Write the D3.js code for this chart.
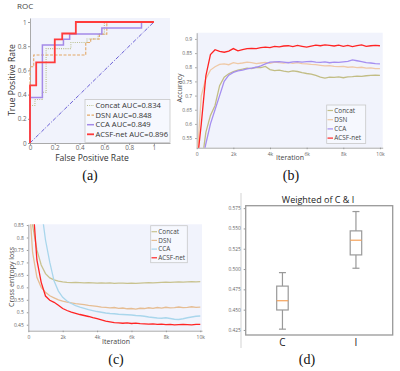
<!DOCTYPE html>
<html>
<head>
<meta charset="utf-8">
<script src="https://cdn.jsdelivr.net/npm/d3@7"></script>
<style>
  body { margin: 0; background: #fff; }
  text { font-family: "Open Sans", "DejaVu Sans", sans-serif; }
  .cap { font-family: "Liberation Serif", serif; font-size: 14px; fill: #111; }
</style>
</head>
<body>
<div id="vis"></div>
<script>
// ---- data ----
const series = ["Concat", "DSN", "CCA", "ACSF-net"]
const aucs = ["0.834", "0.848", "0.849", "0.896"]

// ROC step points (fpr, tpr)
const rocConcat = [[0,0],[0,0.31],[0.04,0.31],[0.04,0.36],[0.1,0.36],[0.1,0.42],[0.13,0.42],[0.13,0.78],[0.33,0.78],[0.33,0.83],[0.46,0.83],[0.46,0.86],[0.55,0.86],[0.55,0.9],[0.6,0.9],[0.6,1],[1,1]]
const rocDSN = [[0,0],[0,0.63],[0.03,0.63],[0.03,0.727],[0.45,0.727],[0.45,0.83],[0.49,0.83],[0.49,0.86],[0.56,0.86],[0.56,0.9],[0.62,0.9],[0.62,1],[1,1]]
const rocCCA = [[0,0],[0,0.375],[0.1,0.375],[0.1,0.81],[0.27,0.81],[0.27,0.857],[0.32,0.857],[0.32,0.9],[0.58,0.9],[0.58,0.95],[0.9,0.95],[0.9,1],[1,1]]
const rocACSF = [[0,0],[0,0.476],[0.05,0.476],[0.05,0.667],[0.2,0.667],[0.2,0.857],[0.26,0.857],[0.26,0.905],[0.37,0.905],[0.37,1],[1,1]]

const iters = [0,250,500,750,1000,1250,1500,1750,2000,2250,2500,2750,3000,3250,3500,3750,4000,4250,4500,4750,5000,5250,5500,5750,6000,6250,6500,6750,7000,7250,7500,7750,8000,8250,8500,8750,9000,9250,9500,9750,10000]

// accuracy (b)
const accConcat = [0.40,0.45,0.57,0.63,0.665,0.735,0.765,0.777,0.785,0.79,0.793,0.797,0.795,0.80,0.799,0.803,0.792,0.788,0.79,0.786,0.784,0.787,0.785,0.781,0.778,0.776,0.771,0.765,0.762,0.765,0.764,0.766,0.763,0.766,0.767,0.769,0.768,0.77,0.771,0.772,0.771]
const accDSN = [0.45,0.70,0.76,0.79,0.802,0.81,0.812,0.809,0.816,0.813,0.815,0.818,0.816,0.813,0.815,0.817,0.814,0.818,0.816,0.815,0.817,0.814,0.816,0.813,0.812,0.81,0.809,0.807,0.805,0.806,0.803,0.802,0.803,0.80,0.801,0.799,0.80,0.797,0.798,0.795,0.795]
const accCCA = [0.40,0.45,0.53,0.60,0.65,0.70,0.75,0.772,0.782,0.787,0.79,0.794,0.797,0.80,0.805,0.812,0.818,0.819,0.82,0.818,0.816,0.819,0.82,0.818,0.82,0.821,0.818,0.817,0.819,0.816,0.818,0.817,0.819,0.821,0.826,0.823,0.82,0.816,0.815,0.813,0.812]
const accACSF = [0.45,0.60,0.77,0.845,0.862,0.856,0.853,0.857,0.866,0.858,0.862,0.866,0.867,0.866,0.869,0.871,0.869,0.874,0.872,0.875,0.876,0.873,0.877,0.874,0.871,0.875,0.878,0.876,0.879,0.877,0.875,0.878,0.874,0.877,0.873,0.876,0.879,0.874,0.876,0.877,0.876]

// loss (c)
const lossConcat = [1.0,0.85,0.75,0.69,0.655,0.638,0.63,0.625,0.622,0.62,0.619,0.62,0.619,0.618,0.619,0.618,0.617,0.618,0.617,0.618,0.616,0.617,0.617,0.616,0.617,0.616,0.617,0.618,0.619,0.618,0.619,0.62,0.621,0.62,0.621,0.622,0.621,0.622,0.623,0.622,0.623]
const lossDSN = [1.0,0.74,0.64,0.60,0.58,0.566,0.558,0.55,0.545,0.541,0.538,0.535,0.533,0.531,0.528,0.526,0.524,0.521,0.52,0.518,0.519,0.516,0.517,0.514,0.515,0.513,0.516,0.515,0.518,0.516,0.519,0.517,0.52,0.518,0.519,0.521,0.519,0.52,0.522,0.52,0.521]
const lossCCA = [1.5,1.3,1.1,0.92,0.79,0.70,0.625,0.585,0.56,0.545,0.535,0.527,0.521,0.516,0.511,0.507,0.503,0.50,0.497,0.495,0.494,0.492,0.491,0.49,0.489,0.487,0.486,0.484,0.481,0.479,0.477,0.476,0.478,0.475,0.472,0.471,0.474,0.478,0.481,0.484,0.485]
const lossACSF = [1.2,0.95,0.71,0.62,0.565,0.548,0.54,0.528,0.515,0.507,0.501,0.496,0.491,0.487,0.483,0.478,0.474,0.469,0.464,0.461,0.458,0.457,0.456,0.457,0.455,0.456,0.454,0.453,0.452,0.453,0.451,0.452,0.45,0.451,0.449,0.45,0.451,0.45,0.449,0.451,0.451]

// box plot (d)
const boxCats = ["C", "I"]
const boxStats = [
  { lo: 0.426, q1: 0.4496, med: 0.461, q3: 0.479, hi: 0.4956 },
  { lo: 0.501, q1: 0.5174, med: 0.5355, q3: 0.547, hi: 0.5708 }
]

const bg = "#f1f3fc"
const tickCol = "#666"

var svg = d3.select("#vis").append("svg")
  .attr("width", 400).attr("height", 371)

function styleAxis(g, fs) {
  g.selectAll("text").attr("fill", tickCol).style("font-size", fs + "px")
  g.selectAll("line").attr("stroke", "#999")
  g.select(".domain").attr("stroke", "#aaa")
}

function kfmt(d) { return d === 0 ? "0" : (d / 1000) + "k" }

// ================= (a) ROC =================
var ax = d3.scaleLinear().domain([0, 1.13]).range([30, 170])
var ay = d3.scaleLinear().domain([0, 1.033]).range([143, 18])

svg.append("rect").attr("x", 30).attr("y", 18).attr("width", 140).attr("height", 125).attr("fill", bg)
svg.append("text").attr("x", 17).attr("y", 9).text("ROC").attr("font-size", "8px").attr("fill", "#444")

svg.append("g").attr("transform", "translate(0,143)")
  .call(d3.axisBottom(ax).tickValues([0, 0.2, 0.4, 0.6, 0.8, 1]).tickFormat(d3.format("~g")).tickSize(2).tickPadding(1).tickSizeOuter(0))
  .call(g => styleAxis(g, 6.3))
svg.append("g").attr("transform", "translate(30,0)")
  .call(d3.axisLeft(ay).tickValues([0, 0.2, 0.4, 0.6, 0.8, 1]).tickFormat(d3.format("~g")).tickSize(2).tickPadding(1.5).tickSizeOuter(0))
  .call(g => styleAxis(g, 6.3))

svg.append("text").attr("x", 92).attr("y", 161).attr("text-anchor", "middle")
  .attr("font-size", "8.6px").attr("fill", "#333").text("False Positive Rate")
svg.append("text").attr("transform", "translate(15,80) rotate(-90)").attr("text-anchor", "middle")
  .attr("font-size", "8.6px").attr("fill", "#333").text("True Positive Rate")

var rocLine = d3.line().x(d => ax(d[0])).y(d => ay(d[1]))
svg.append("path").datum([[0, 0], [1, 1]]).attr("d", rocLine)
  .attr("fill", "none").attr("stroke", "#5b4fd0").attr("stroke-width", 0.9).attr("stroke-dasharray", "4,1.5,1,1.5")

const rocSets = [
  { d: rocConcat, c: "#b9bf8c", w: 1.1, dash: "1,1.2" },
  { d: rocDSN, c: "#e3a867", w: 1.1, dash: "3,1.5" },
  { d: rocCCA, c: "#a48ae8", w: 1.5, dash: null },
  { d: rocACSF, c: "#ff3b3b", w: 1.8, dash: null }
]
rocSets.forEach(s => {
  svg.append("path").datum(s.d).attr("d", rocLine)
    .attr("fill", "none").attr("stroke", s.c).attr("stroke-width", s.w)
    .attr("stroke-dasharray", s.dash)
})

var lgA = svg.append("g")
lgA.append("rect").attr("x", 85).attr("y", 99.5).attr("width", 85).attr("height", 43)
  .attr("fill", "#f6f8fe").attr("stroke", "#c8c8c8").attr("stroke-width", 0.8)
series.forEach((n, i) => {
  var yy = 105.5 + i * 9.6
  lgA.append("line").attr("x1", 87).attr("x2", 94).attr("y1", yy).attr("y2", yy)
    .attr("stroke", rocSets[i].c).attr("stroke-width", rocSets[i].w).attr("stroke-dasharray", rocSets[i].dash)
  lgA.append("text").attr("x", 95.5).attr("y", yy + 2.7).attr("font-size", "7.6px").attr("fill", "#333")
    .text(n + " AUC=" + aucs[i])
})

svg.append("text").attr("class", "cap").attr("x", 90).attr("y", 180).attr("text-anchor", "middle").text("(a)")

// ================= (b) Accuracy =================
var bx = d3.scaleLinear().domain([0, 10150]).range([196.7, 382.7])
var by = d3.scaleLinear().domain([0.516, 0.922]).range([147.7, 32.7])

svg.append("rect").attr("x", 196.7).attr("y", 32.7).attr("width", 186).attr("height", 115).attr("fill", bg)
svg.append("clipPath").attr("id", "clipB").append("rect")
  .attr("x", 196.7).attr("y", 32.7).attr("width", 186).attr("height", 115)

svg.append("g").attr("transform", "translate(0,147.7)")
  .call(d3.axisBottom(bx).tickValues([0, 2000, 4000, 6000, 8000, 10000]).tickFormat(kfmt).tickSize(1.5).tickSizeOuter(0))
  .call(g => styleAxis(g, 5))
svg.append("g").attr("transform", "translate(196.7,0)")
  .call(d3.axisLeft(by).tickValues([0.55, 0.6, 0.65, 0.7, 0.75, 0.8, 0.85, 0.9]).tickFormat(d3.format("~g")).tickSize(1.5).tickSizeOuter(0))
  .call(g => styleAxis(g, 5))

svg.append("text").attr("x", 290).attr("y", 160).attr("text-anchor", "middle")
  .attr("font-size", "7px").attr("fill", "#444").text("Iteration")
svg.append("text").attr("transform", "translate(182,88) rotate(-90)").attr("text-anchor", "middle")
  .attr("font-size", "7px").attr("fill", "#444").text("Accuracy")

const accSets = [
  { v: accConcat, c: "#c2bd85" },
  { v: accDSN, c: "#efc9a6" },
  { v: accCCA, c: "#a58ef0" },
  { v: accACSF, c: "#ff2424" }
]
var accLine = d3.line().x((d, i) => bx(iters[i])).y(d => by(d))
var gB = svg.append("g").attr("clip-path", "url(#clipB)")
accSets.forEach(s => {
  gB.append("path").datum(s.v).attr("d", accLine)
    .attr("fill", "none").attr("stroke", s.c).attr("stroke-width", 1.3)
})

var lgB = svg.append("g")
lgB.append("rect").attr("x", 326.7).attr("y", 105).attr("width", 39).attr("height", 38.5)
  .attr("fill", "#f6f8fe").attr("stroke", "#c8c8c8").attr("stroke-width", 0.8)
series.forEach((n, i) => {
  var yy = 110.5 + i * 9.2
  lgB.append("line").attr("x1", 327.5).attr("x2", 333).attr("y1", yy).attr("y2", yy)
    .attr("stroke", accSets[i].c).attr("stroke-width", 1.2)
  lgB.append("text").attr("x", 334.3).attr("y", yy + 2.3).attr("font-size", "6.4px").attr("fill", "#444").text(n)
})

svg.append("text").attr("class", "cap").attr("x", 291).attr("y", 180).attr("text-anchor", "middle").text("(b)")

// ================= (c) Loss =================
var cx = d3.scaleLinear().domain([0, 10100]).range([28.3, 202])
var cy = d3.scaleLinear().domain([0.426, 0.853]).range([330.7, 224.3])

svg.append("rect").attr("x", 28.3).attr("y", 224.3).attr("width", 173.7).attr("height", 106.4).attr("fill", bg)
svg.append("clipPath").attr("id", "clipC").append("rect")
  .attr("x", 28.3).attr("y", 224.3).attr("width", 173.7).attr("height", 106.4)

svg.append("g").attr("transform", "translate(0,330.7)")
  .call(d3.axisBottom(cx).tickValues([0, 2000, 4000, 6000, 8000, 10000]).tickFormat(kfmt).tickSize(1.5).tickSizeOuter(0))
  .call(g => styleAxis(g, 5))
svg.append("g").attr("transform", "translate(28.3,0)")
  .call(d3.axisLeft(cy).tickValues([0.45, 0.5, 0.55, 0.6, 0.65, 0.7, 0.75, 0.8, 0.85]).tickFormat(d3.format("~g")).tickSize(1.5).tickSizeOuter(0))
  .call(g => styleAxis(g, 5))

svg.append("text").attr("x", 116).attr("y", 344).attr("text-anchor", "middle")
  .attr("font-size", "7px").attr("fill", "#444").text("Iteration")
svg.append("text").attr("transform", "translate(14,277) rotate(-90)").attr("text-anchor", "middle")
  .attr("font-size", "7px").attr("fill", "#444").text("Cross entropy loss")

const lossSets = [
  { v: lossConcat, c: "#c8c28f" },
  { v: lossDSN, c: "#e6bd93" },
  { v: lossCCA, c: "#a9d6ec" },
  { v: lossACSF, c: "#ff2424" }
]
var lossLine = d3.line().x((d, i) => cx(iters[i])).y(d => cy(d))
var gC = svg.append("g").attr("clip-path", "url(#clipC)")
lossSets.forEach(s => {
  gC.append("path").datum(s.v).attr("d", lossLine)
    .attr("fill", "none").attr("stroke", s.c).attr("stroke-width", 1.3)
})

var lgC = svg.append("g")
lgC.append("rect").attr("x", 150.7).attr("y", 225.7).attr("width", 36.6).attr("height", 37)
  .attr("fill", "#f6f8fe").attr("stroke", "#c8c8c8").attr("stroke-width", 0.8)
series.forEach((n, i) => {
  var yy = 231.7 + i * 8.7
  lgC.append("line").attr("x1", 151.5).attr("x2", 157).attr("y1", yy).attr("y2", yy)
    .attr("stroke", lossSets[i].c).attr("stroke-width", 1.2)
  lgC.append("text").attr("x", 158.3).attr("y", yy + 2.3).attr("font-size", "6.4px").attr("fill", "#444").text(n)
})

svg.append("text").attr("class", "cap").attr("x", 116).attr("y", 364).attr("text-anchor", "middle").text("(c)")

// ================= (d) Box plot =================
var dx = d3.scalePoint().domain(boxCats).range([245.7, 392.7]).padding(0.5)
var dy = d3.scaleLinear().domain([0.4188, 0.578]).range([335, 205.7])

svg.append("line").attr("x1", 241).attr("x2", 241).attr("y1", 193).attr("y2", 348)
  .attr("stroke", "#e2e2e2").attr("stroke-width", 1.5)

svg.append("g").attr("transform", "translate(245.7,0)")
  .call(d3.axisLeft(dy).tickValues([0.425, 0.45, 0.475, 0.5, 0.525, 0.55, 0.575]).tickFormat(d3.format(".3f")).tickSize(2).tickSizeOuter(0))
  .call(g => styleAxis(g, 4.8))
  .call(g => g.select(".domain").remove())

svg.append("rect").attr("x", 245.7).attr("y", 205.7).attr("width", 147).attr("height", 129.3)
  .attr("fill", "none").attr("stroke", "#999").attr("stroke-width", 1.3)

svg.append("text").attr("x", 318).attr("y", 203).attr("text-anchor", "middle")
  .attr("font-size", "9px").attr("fill", "#222").text("Weighted of C & I")

boxCats.forEach((c, i) => {
  var s = boxStats[i], x0 = dx(c), bw = 11.5, cw = 7
  var g = svg.append("g")
  g.append("line").attr("x1", x0).attr("x2", x0).attr("y1", dy(s.lo)).attr("y2", dy(s.q1)).attr("stroke", "#999").attr("stroke-width", 1.2)
  g.append("line").attr("x1", x0).attr("x2", x0).attr("y1", dy(s.q3)).attr("y2", dy(s.hi)).attr("stroke", "#999").attr("stroke-width", 1.2)
  g.append("line").attr("x1", x0 - cw / 2).attr("x2", x0 + cw / 2).attr("y1", dy(s.lo)).attr("y2", dy(s.lo)).attr("stroke", "#999").attr("stroke-width", 1.2)
  g.append("line").attr("x1", x0 - cw / 2).attr("x2", x0 + cw / 2).attr("y1", dy(s.hi)).attr("y2", dy(s.hi)).attr("stroke", "#999").attr("stroke-width", 1.2)
  g.append("rect").attr("x", x0 - bw / 2).attr("y", dy(s.q3)).attr("width", bw).attr("height", dy(s.q1) - dy(s.q3))
    .attr("fill", "#fff").attr("stroke", "#999").attr("stroke-width", 1.2)
  g.append("line").attr("x1", x0 - bw / 2).attr("x2", x0 + bw / 2).attr("y1", dy(s.med)).attr("y2", dy(s.med)).attr("stroke", "#f5a25a").attr("stroke-width", 1.2)
  svg.append("text").attr("x", x0).attr("y", 346).attr("text-anchor", "middle")
    .attr("font-size", "10px").attr("fill", "#222").text(c)
})

svg.append("text").attr("class", "cap").attr("x", 307).attr("y", 364).attr("text-anchor", "middle").text("(d)")
</script>
</body>
</html>
